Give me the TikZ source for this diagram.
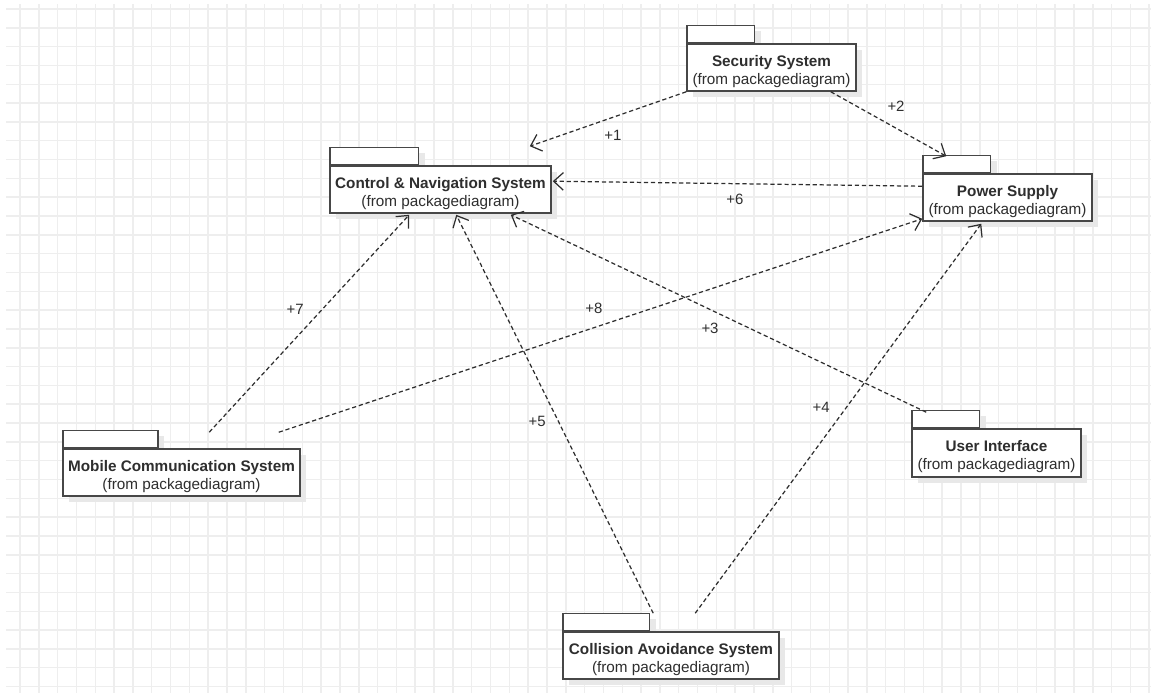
\documentclass[tikz,border=0pt]{standalone}
\usepackage{fontspec}
\setmainfont{Liberation Sans}
\usetikzlibrary{arrows.meta, calc, backgrounds, shadows}
\definecolor{gridC}{HTML}{EEEEEE}
\definecolor{inkC}{HTML}{2E2E2E}
\definecolor{lineC}{HTML}{474747}
\definecolor{shadeC}{HTML}{E8E8E8}
\newcommand{\pkgName}[1]{\rule{0pt}{10.6pt}\textbf{#1}\\(from packagediagram)}
\tikzset{
  pkgBody/.style={rectangle, draw=lineC, fill=white, line width=0.9pt, minimum height=0.94cm, align=center, text=inkC, font=\fontsize{8.7}{10.2}\selectfont, inner sep=0pt, drop shadow={fill=shadeC, opacity=1, shadow xshift=0.12cm, shadow yshift=-0.12cm}},
  pkgTab/.style={rectangle, draw=lineC, fill=white, line width=0.9pt, minimum height=0.34cm, inner sep=0pt, anchor=south west, drop shadow={fill=shadeC, opacity=1, shadow xshift=0.12cm, shadow yshift=-0.12cm}},
  dep/.style={-{Straight Barb[length=5.5pt,width=10pt]}, dash pattern=on 2.4pt off 1.6pt, line width=0.7pt, draw=inkC},
  lbl/.style={font=\fontsize{8.5}{10}\selectfont, text=inkC, inner sep=1pt},
  gridLn/.style={draw=gridC, line width=0.85pt}
}
\begin{document}
\begin{tikzpicture}[x=0.02cm, y=-0.02cm]
  \useasboundingbox (0,0) rectangle (1151,693);

  % ── Grid ──
  \begin{scope}[on background layer]
    \foreach \gx in {0,...,60}
      \draw[gridLn] ({20+18.82*\gx},4) -- ({20+18.82*\gx},693);
    \foreach \gy in {0,...,36}
      \draw[gridLn] (6,{9+18.82*\gy}) -- (1151,{9+18.82*\gy});
  \end{scope}

  % ── Packages ──
  \node[pkgBody, minimum width=3.38cm] (sec) at (771.5,67.5) {\pkgName{Security System}};
  \node[pkgBody, minimum width=4.42cm] (ctl) at (440.5,189.5) {\pkgName{Control \& Navigation System}};
  \node[pkgBody, minimum width=3.38cm] (pwr) at (1007.5,197.5) {\pkgName{Power Supply}};
  \node[pkgBody, minimum width=4.74cm] (mob) at (181.5,472.5) {\pkgName{Mobile Communication System}};
  \node[pkgBody, minimum width=3.38cm, minimum height=0.96cm] (ui) at (996.5,453) {\pkgName{User Interface}};
  \node[pkgBody, minimum width=4.32cm] (col) at (671,655.5) {\pkgName{Collision Avoidance System}};

  \begin{scope}[on background layer]
    \foreach \n/\w in {sec/1.35, ctl/1.77, pwr/1.35, mob/1.9, ui/1.35, col/1.73}
      \node[pkgTab, minimum width=\w cm] (\n Tab) at (\n.north west) {};
  \end{scope}

  % ── Dependencies ──
  \draw[dep] (sec.south west) -- node[lbl, xshift=0.1cm, yshift=-0.32cm]{+1} ($(ctl.north east)+(-22,-19)$);
  \draw[dep] ($(sec.south east)+(-26,0)$) -- node[lbl, xshift=0.15cm, yshift=0.36cm]{+2} ($(pwr.north west)+(24,-17)$);
  \draw[dep] ($(ui.north west)+(15,-16)$) -- node[lbl, xshift=-0.17cm, yshift=-0.29cm]{+3} ($(ctl.south east)+(-41,1)$);
  \draw[dep] ($(col.north west)+(133,-18)$) -- node[lbl, xshift=-0.34cm, yshift=0.23cm]{+4} ($(pwr.south west)+(59,2)$);
  \draw[dep] ($(col.north west)+(91,-18)$) -- node[lbl, xshift=-0.35cm, yshift=-0.14cm]{+5} ($(ctl.south west)+(127,1)$);
  \draw[dep] ($(pwr.north west)+(0,13)$) -- node[lbl, xshift=-0.05cm, yshift=-0.31cm]{+6} ($(ctl.north east)+(1,16)$);
  \draw[dep] ($(mob.north west)+(147,-16)$) -- node[lbl, xshift=-0.28cm, yshift=0.29cm]{+7} ($(ctl.south west)+(80,1)$);
  \draw[dep] ($(mob.north east)+(-22,-16)$) -- node[lbl, xshift=-0.13cm, yshift=0.35cm]{+8} ($(pwr.south west)+(0,-3)$);
\end{tikzpicture}
\end{document}
